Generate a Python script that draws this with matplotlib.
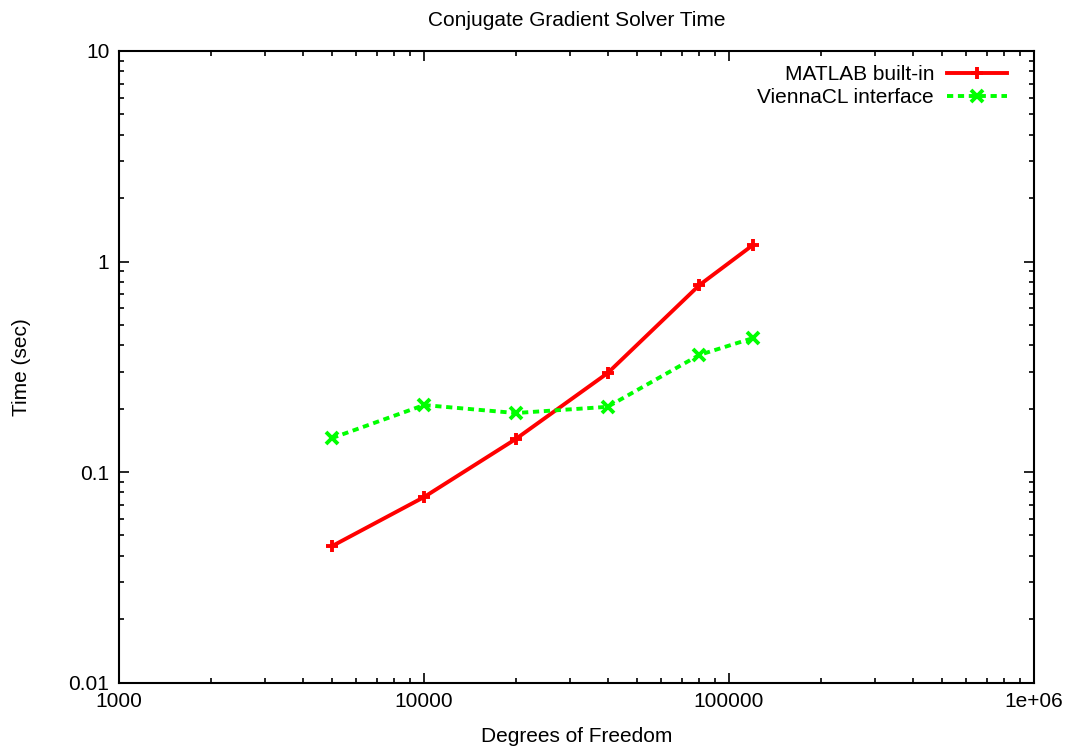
import matplotlib.pyplot as plt
from matplotlib.ticker import FixedLocator, LogLocator, NullFormatter

plt.rcParams['font.family'] = ['Liberation Sans', 'DejaVu Sans']

dof = [5000, 10000, 20000, 40000, 80000, 120000]
matlab_time = [0.0445, 0.076, 0.1435, 0.295, 0.773, 1.20]
vienna_time = [0.145, 0.208, 0.1906, 0.204, 0.36, 0.433]

fig = plt.figure(figsize=(10.74, 7.52), dpi=100)
ax = fig.add_axes([119 / 1074, 1 - 682.5 / 752, (1034 - 119) / 1074, (682.5 - 51) / 752])

ax.plot(dof, matlab_time, color='#ff0000', lw=2.8, marker='+', ms=8, mew=2.8,
        label='MATLAB built-in')
ax.plot(dof, vienna_time, color='#00ff00', lw=2.8, ls=(0, (1.6, 1.2)), marker='x',
        ms=8, mew=2.8, label='ViennaCL interface')

ax.set_xscale('log')
ax.set_yscale('log')
ax.set_xlim(1000, 1e6)
ax.set_ylim(0.01, 10)

ax.xaxis.set_major_locator(FixedLocator([1000, 10000, 100000, 1e6]))
ax.set_xticklabels(['1000', '10000', '100000', '1e+06'])
ax.yaxis.set_major_locator(FixedLocator([0.01, 0.1, 1, 10]))
ax.set_yticklabels(['0.01', '0.1', '1', '10'])
ax.xaxis.set_minor_locator(LogLocator(base=10, subs=range(2, 10)))
ax.yaxis.set_minor_locator(LogLocator(base=10, subs=range(2, 10)))
ax.xaxis.set_minor_formatter(NullFormatter())
ax.yaxis.set_minor_formatter(NullFormatter())

ax.tick_params(which='both', direction='in', top=True, right=True, labelsize=15,
               width=1.2, pad=7)
ax.tick_params(which='major', length=7)
ax.tick_params(which='minor', length=3.5)
for s in ax.spines.values():
    s.set_linewidth(1.5)

ax.set_title('Conjugate Gradient Solver Time', fontsize=15, pad=18)
ax.set_xlabel('Degrees of Freedom', fontsize=15, labelpad=11)
ax.set_ylabel('Time (sec)', fontsize=15, labelpad=27)

ax.legend(loc='upper right', bbox_to_anchor=(1.0, 1.02), frameon=False,
          markerfirst=False, fontsize=15, handlelength=2.9, handletextpad=0.6,
          labelspacing=0.18, borderaxespad=0.9)

fig.savefig('out.png', dpi=100)
